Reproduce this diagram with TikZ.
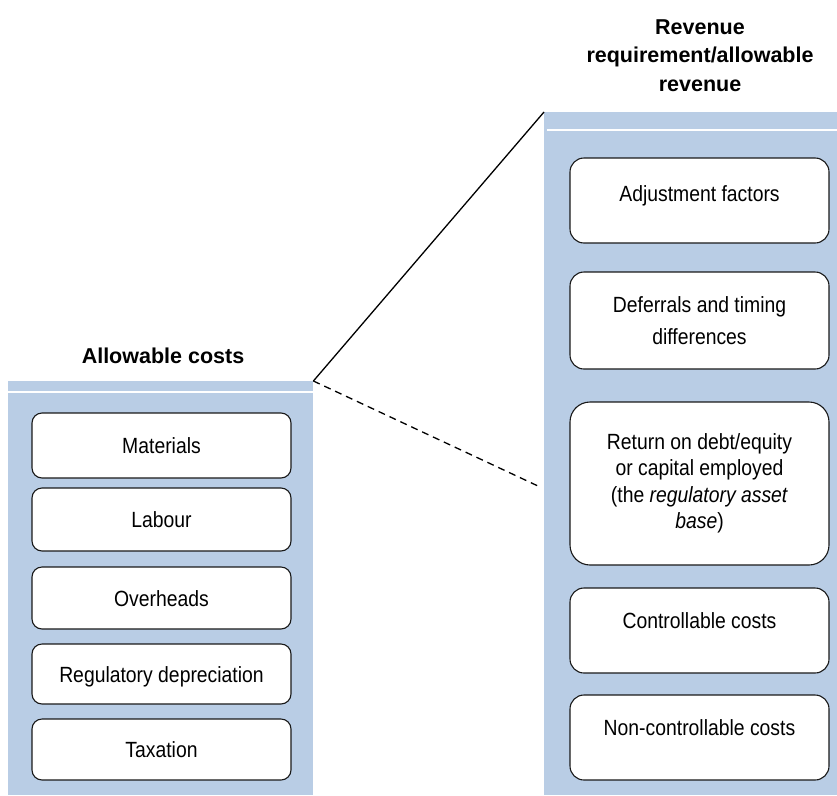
\documentclass[tikz,border=0pt]{standalone}
\usepackage{fontspec}
\setmainfont{Liberation Sans}
\newfontfamily\bodyfont{Liberation Sans}[FakeStretch=0.88]
\definecolor{panelblue}{RGB}{185,205,229}
\begin{document}
\begin{tikzpicture}[x=1pt,y=-1pt,
  panel/.style={fill=panelblue, draw=none, inner sep=0pt, anchor=north west},
  item/.style={draw=black!90, line width=1.1pt, fill=white, inner sep=0pt,
    minimum width=259pt, font=\bodyfont\fontsize{22}{26.5}\selectfont},
  lbox/.style={item, rounded corners=10pt, text height=16pt, text depth=0pt},
  rbox/.style={item, rounded corners=14pt},
  title/.style={font=\bfseries\fontsize{21.5}{28.5}\selectfont, inner sep=0pt},
  sep/.style={white, line width=1.2pt},
  link/.style={black, line width=1.3pt}
]
\useasboundingbox (0,0) rectangle (837,795);

% panels
\node[panel, minimum width=305pt, minimum height=414pt] (lp) at (8,381) {};
\node[panel, minimum width=293pt, minimum height=683pt] (rp) at (544,112) {};
\draw[sep] (8,392) -- (313,392);
\draw[sep] (547,130) -- (837,130);

% titles
\node[title, anchor=base] (lt) at (163,363) {Allowable costs};
\node[title, anchor=north, align=center] (rt) at (700,19.5)
  {Revenue\\requirement/allowable\\revenue};

% left boxes
\node[lbox, minimum height=65pt] (mat) at (161.5,445.5) {Materials};
\node[lbox, minimum height=63pt] (lab) at (161.5,519.5) {Labour};
\node[lbox, minimum height=62pt] (ovh) at (161.5,598) {Overheads};
\node[lbox, minimum height=60pt] (dep) at (161.5,674) {Regulatory depreciation};
\node[lbox, minimum height=61pt] (tax) at (161.5,749.5) {Taxation};

% right boxes
\node[rbox, minimum height=85pt, text height=16pt, text depth=14pt] (adj) at (699.5,200.5) {Adjustment factors};
\node[rbox, minimum height=97pt, align=center,
  font=\bodyfont\fontsize{22}{31.5}\selectfont] (def) at (699.5,320.5)
  {Deferrals and timing\\differences};
\node[rbox, rounded corners=20pt, minimum height=163pt, align=center] (ret) at (699.5,483.5)
  {Return on debt/equity\\or capital employed\\(the \textit{regulatory asset}\\\textit{base})};
\node[rbox, minimum height=85pt, text height=16pt, text depth=20pt] (con) at (699.5,630.5) {Controllable costs};
\node[rbox, minimum height=85pt, text height=16pt, text depth=20pt] (ncon) at (699.5,737.5) {Non-controllable costs};

% connectors
\coordinate (dend) at (538,486);
\draw[link] (lp.north east) -- (rp.north west);
\draw[link, dash pattern=on 7pt off 5pt] (lp.north east) -- (dend);
\end{tikzpicture}
\end{document}
